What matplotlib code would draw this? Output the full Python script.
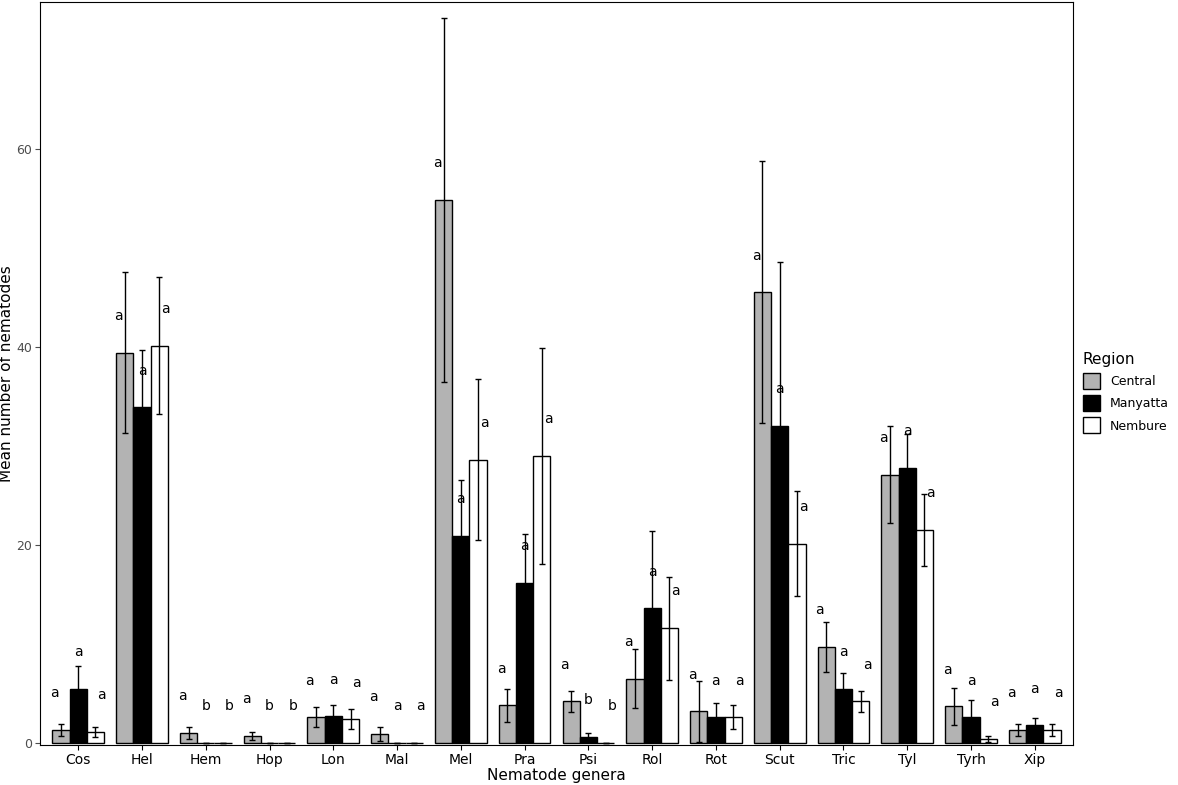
import matplotlib.pyplot as plt
import numpy as np
from matplotlib.patches import Patch

genera = ["Cos","Hel","Hem","Hop","Lon","Mal","Mel","Pra","Psi","Rol","Rot","Scut","Tric","Tyl","Tyrh","Xip"]
central = [1.3,39.4,1.0,0.7,2.6,0.9,54.8,3.8,4.2,6.5,3.2,45.5,9.7,27.1,3.7,1.3]
central_err = [0.6,8.1,0.6,0.4,1.0,0.7,18.4,1.7,1.1,3.0,3.1,13.2,2.5,4.9,1.9,0.6]
manyatta = [5.5,33.9,0,0,2.7,0,20.9,16.2,0.6,13.6,2.6,32.0,5.5,27.8,2.6,1.8]
manyatta_err = [2.3,5.8,0,0,1.1,0,5.6,4.9,0.4,7.8,1.4,16.6,1.6,3.4,1.7,0.7]
nembure = [1.1,40.1,0,0,2.4,0,28.6,29.0,0,11.6,2.6,20.1,4.2,21.5,0.4,1.3]
nembure_err = [0.5,6.9,0,0,1.0,0,8.1,10.9,0,5.2,1.2,5.3,1.1,3.6,0.3,0.6]
let_c = ["a"]*16
let_m = ["a","a","b","b","a","a","a","a","b","a","a","a","a","a","a","a"]
let_n = ["a","a","b","b","a","a","a","a","b","a","a","a","a","a","a","a"]

fig = plt.figure(figsize=(11.78,7.85), dpi=100)
ax = fig.add_axes([40/1178, 40/785, (1073-40)/1178, (785-2-40)/785])
x = np.arange(len(genera))
w = 0.27
series = [(central, central_err, let_c, "#b3b3b3"), (manyatta, manyatta_err, let_m, "black"), (nembure, nembure_err, let_n, "white")]
offs = [-0.1, 0.0, 0.1]
for i, (v, e, l, c) in enumerate(series):
    xs = x + (i-1)*w
    ax.bar(xs, v, w, color=c, edgecolor="black", linewidth=1)
    ax.errorbar(xs, v, yerr=e, fmt="none", ecolor="black", elinewidth=1, capsize=2)
    for xi, vi, li in zip(xs, v, l):
        ax.text(xi + offs[i], vi + 3.7, li, ha="center", va="center", fontsize=10)
ax.set_xlim(-0.6, len(genera)-0.4)
ax.set_ylim(-0.2, 74.8)
ax.set_yticks([0,20,40,60])
ax.set_xticks(x)
ax.set_xticklabels(genera, fontsize=10)
ax.tick_params(axis="y", labelsize=9, colors="#4d4d4d", pad=2)
ax.tick_params(axis="x", colors="black", pad=2)
ax.set_xlabel("Nematode genera", fontsize=11, labelpad=1)
ax.set_ylabel("Mean number of nematodes", fontsize=11, labelpad=2)
handles = [Patch(facecolor=c, edgecolor="black", label=n) for n, c in zip(["Central","Manyatta","Nembure"], ["#b3b3b3","black","white"])]
fig.legend(handles=handles, title="Region", loc="center left", bbox_to_anchor=(1080/1178, 0.5), frameon=False, fontsize=9, title_fontsize=11, alignment="left", handlelength=1.4, handleheight=1.6, borderaxespad=0, borderpad=0.2)
fig.savefig("out.png", dpi=100)
